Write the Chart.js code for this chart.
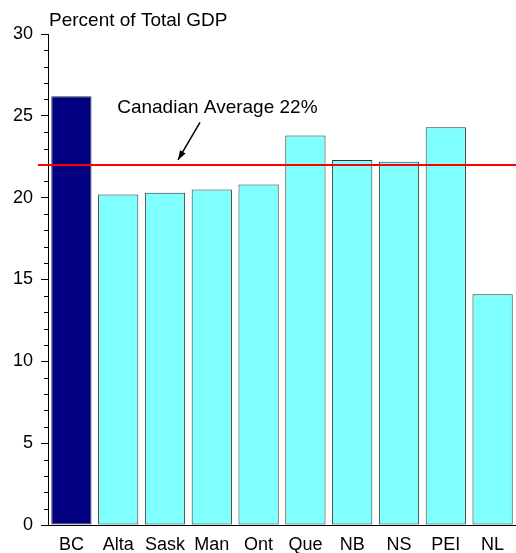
<!DOCTYPE html>
<html>
<head>
<meta charset="utf-8">
<script src="https://cdn.jsdelivr.net/npm/chart.js@4"></script>
<style>
  html, body { margin: 0; padding: 0; background: #fff; }
  #wrap { width: 516px; height: 553px; position: relative; }
</style>
</head>
<body>
<div id="wrap"><canvas id="gdp-chart"></canvas></div>
<script>
const provinces = ["BC", "Alta", "Sask", "Man", "Ont", "Que", "NB", "NS", "PEI", "NL"];
const gdpShare = [26.2, 20.2, 20.3, 20.5, 20.8, 23.8, 22.3, 22.2, 24.3, 14.1];
const canadianAverage = 22;
const yTicks = [0, 5, 10, 15, 20, 25, 30];
const yTitle = "Percent of Total GDP";
const averageLabel = "Canadian Average 22%";

const FONT = '"Liberation Sans", Arial, sans-serif';

const barColors = provinces.map((p) => (p === "BC" ? "#000080" : "#80ffff"));

const overlayPlugin = {
  id: "overlay",
  afterDraw(chart) {
    const { ctx, chartArea, scales } = chart;
    const x = scales.x;
    const y = scales.y;
    ctx.save();

    // minor ticks on the y axis
    ctx.strokeStyle = "#000";
    ctx.lineWidth = 1;
    y.ticks.forEach((t) => {
      if (yTicks.includes(t.value)) return;
      const py = Math.round(y.getPixelForValue(t.value)) + 0.5;
      ctx.beginPath();
      ctx.moveTo(chartArea.left - 4, py);
      ctx.lineTo(chartArea.left, py);
      ctx.stroke();
    });

    // average line
    const avgY = y.getPixelForValue(canadianAverage);
    ctx.strokeStyle = "#ff0000";
    ctx.lineWidth = 2;
    ctx.beginPath();
    ctx.moveTo(chartArea.left - 10, avgY);
    ctx.lineTo(chartArea.right, avgY);
    ctx.stroke();

    // axis title
    ctx.fillStyle = "#000";
    ctx.font = "19px " + FONT;
    ctx.textAlign = "left";
    ctx.textBaseline = "alphabetic";
    ctx.fillText(yTitle, chartArea.left + 1, chartArea.top - 8);

    // annotation text + arrow
    ctx.fillText(averageLabel, x.getPixelForValue(1) - 1, y.getPixelForValue(25.15));

    const ax0 = x.getPixelForValue(2) + 35;
    const ay0 = y.getPixelForValue(24.6);
    const ax1 = x.getPixelForValue(2) + 13;
    const ay1 = avgY - 5;
    ctx.strokeStyle = "#000";
    ctx.lineWidth = 1.5;
    ctx.beginPath();
    ctx.moveTo(ax0, ay0);
    ctx.lineTo(ax1, ay1);
    ctx.stroke();
    const ang = Math.atan2(ay1 - ay0, ax1 - ax0);
    const head = 10;
    ctx.beginPath();
    ctx.moveTo(ax1, ay1);
    ctx.lineTo(ax1 - head * Math.cos(ang - 0.33), ay1 - head * Math.sin(ang - 0.33));
    ctx.lineTo(ax1 - head * Math.cos(ang + 0.33), ay1 - head * Math.sin(ang + 0.33));
    ctx.closePath();
    ctx.fillStyle = "#000";
    ctx.fill();

    ctx.restore();
  },
};

new Chart(document.getElementById("gdp-chart"), {
  type: "bar",
  data: {
    labels: provinces,
    datasets: [
      {
        data: gdpShare,
        backgroundColor: barColors,
        borderColor: "#333333",
        borderWidth: 1,
        borderSkipped: false,
        barPercentage: 0.86,
        categoryPercentage: 1,
      },
    ],
  },
  options: {
    responsive: true,
    maintainAspectRatio: false,
    animation: false,
    devicePixelRatio: 1,
    layout: { padding: { top: 34, right: 0, left: 0, bottom: 0 } },
    plugins: {
      legend: { display: false },
      tooltip: { enabled: false },
    },
    scales: {
      x: {
        afterFit: (scale) => {
          scale.height = 28;
        },
        grid: { display: false, drawTicks: false, tickLength: 0 },
        border: { display: true, color: "#000", width: 1 },
        ticks: { color: "#000", font: { family: FONT, size: 18 }, padding: 9 },
      },
      y: {
        min: 0,
        max: 30,
        afterFit: (scale) => {
          scale.width = 48;
        },
        afterBuildTicks: (scale) => {
          const list = [];
          for (let v = 0; v <= 30; v++) list.push({ value: v });
          scale.ticks = list;
        },
        grid: {
          drawOnChartArea: false,
          tickLength: 7,
          tickColor: (c) => (yTicks.includes(c.tick.value) ? "#000" : "rgba(0,0,0,0)"),
        },
        border: { display: true, color: "#000", width: 1 },
        ticks: {
          autoSkip: false,
          color: "#000",
          padding: 8,
          font: { family: FONT, size: 18 },
          callback: (v) => (yTicks.includes(v) ? String(v) : ""),
        },
      },
    },
  },
  plugins: [overlayPlugin],
});
</script>
</body>
</html>
